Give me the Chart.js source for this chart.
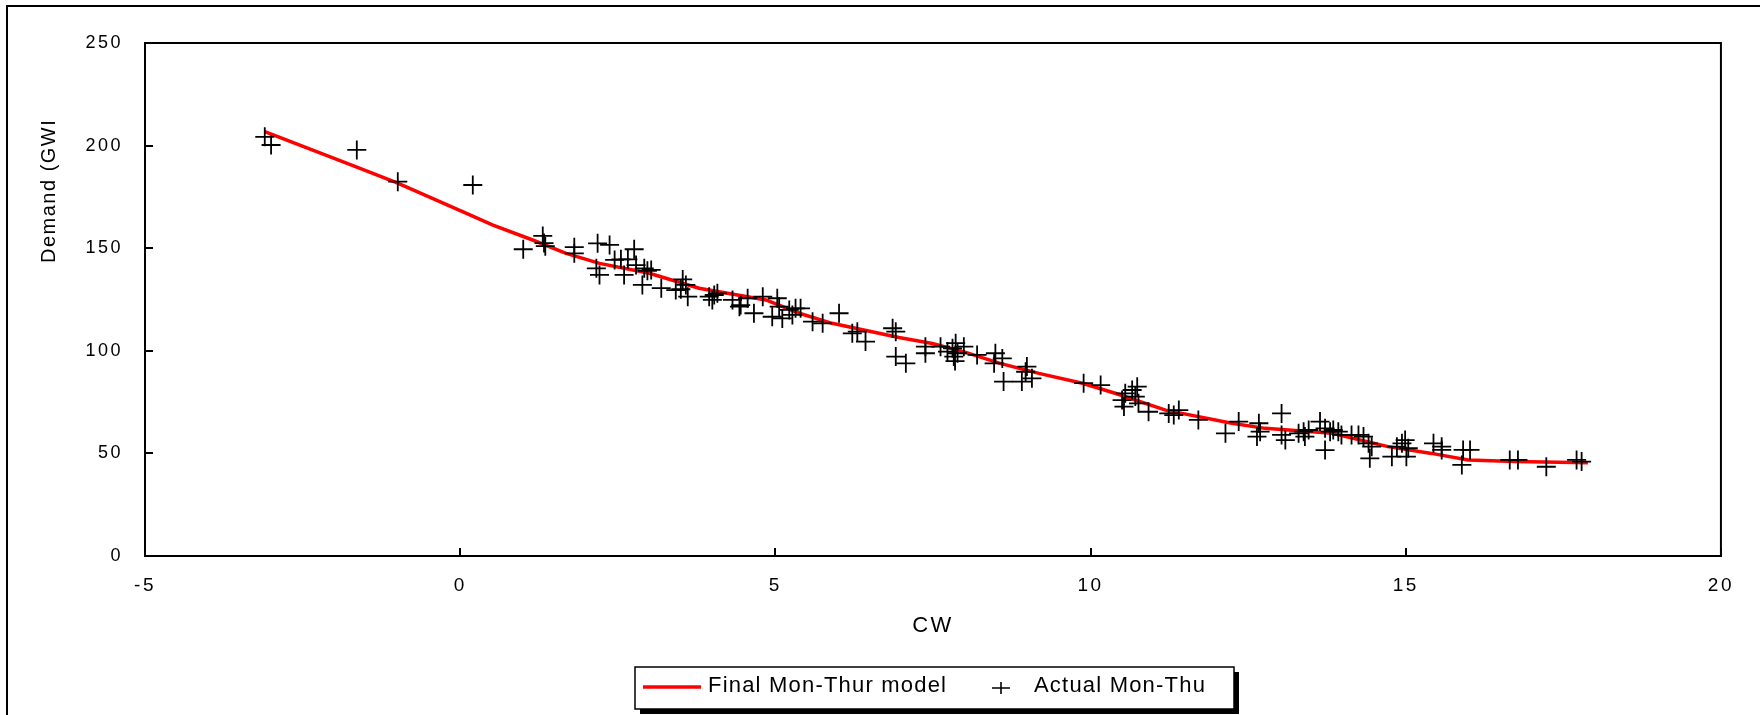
<!DOCTYPE html>
<html>
<head>
<meta charset="utf-8">
<script src="https://cdn.jsdelivr.net/npm/chart.js@4.4.0/dist/chart.umd.min.js"></script>
<style>
  html, body { margin: 0; padding: 0; background: #fff; }
  canvas { display: block; }
</style>
</head>
<body>
<canvas id="demandChart" width="1760" height="715"></canvas>
<script>
const yTitle = 'Demand (GWI';
const xTitle = 'CW';
const modelLabel = 'Final Mon-Thur model';
const actualLabel = 'Actual Mon-Thu';

// model curve
const cwModel = [-3.1, -1.65, -1.0, 0.1, 0.52, 1.15, 1.68, 2.21, 3.0, 3.79, 4.85, 5.38, 5.9, 6.96, 7.49, 8.02, 8.55, 9.18, 9.87, 10.39, 11.19, 12.24, 12.77, 13.83, 14.72, 15.41, 15.99, 16.73, 17.89];
const demandModel = [206.8, 189.6, 181.8, 167, 161.3, 154, 147.5, 142.6, 137.8, 130.5, 124.8, 118.3, 113.4, 106.5, 103.6, 99.2, 94, 89, 84.2, 79.3, 71.1, 64.7, 62.2, 59.8, 53.3, 50, 46.8, 46, 45.5];

// actual Mon-Thu observations
const cwActual = [
  -3.10, -3.00, -1.64, -0.99, 0.20, 1.00, 1.31, 1.33, 1.35, 1.81, 1.81,
  2.18, 2.37, 2.76, 2.16, 2.21, 2.45, 2.55, 2.66, 2.60, 2.79, 2.92, 2.97, 3.03, 2.89, 3.19,
  3.53, 3.58, 3.50, 3.61, 3.42, 3.95, 4.03, 4.08, 4.00, 4.32, 4.45, 4.56, 4.80, 4.66, 4.43,
  5.03, 5.06, 4.95, 5.11, 5.22, 5.32, 5.40, 5.27, 5.59, 5.75, 6.01, 6.22, 6.30, 6.43, 6.86,
  6.91, 6.91, 7.07, 7.38, 7.38, 7.62, 7.73, 7.81, 7.86, 7.83, 7.89, 7.99, 8.20, 7.85,
  8.49, 8.60, 8.47, 8.62, 8.91, 8.97, 9.07, 8.99, 9.89, 10.16, 10.50, 10.55, 10.66, 10.74,
  10.71, 10.53, 10.76, 10.92, 11.24, 11.40, 11.32, 11.71, 12.14, 12.35, 12.67, 12.64, 12.69,
  13.03, 13.03, 13.09, 13.30, 13.38, 13.46, 13.40, 13.64, 13.72, 13.72, 13.80, 13.85, 13.98,
  14.14, 14.33, 14.43, 14.46, 14.78, 14.86, 14.41, 13.93, 14.25,
  14.94, 14.99, 15.04, 15.01, 15.44, 15.57, 15.57, 15.89, 15.91, 16.02, 16.65, 16.78, 17.23,
  17.71, 17.79
];
const demandActual = [
  204.3, 200.3, 197.9, 182.4, 180.8, 149.5, 156, 152.5, 151, 150.5, 147.5,
  152.4, 151.6, 149.5, 140.2, 137, 144.3, 144.6, 144.6, 137, 141.8, 140.2, 139, 139.4, 132.1, 130.5,
  134.8, 132.1, 130, 126.4, 129.6, 126.4, 127.2, 128, 124.8, 124.8, 122.3, 125.6, 126.4, 118.3, 121.5,
  125.6, 121.5, 116.6, 115.8, 119.9, 120.7, 120.7, 117.5, 114.2, 113.4, 118.3, 108.5, 109.3, 104.5, 111,
  109.3, 97.2, 93.9, 102, 98.8, 102, 99.6, 101.2, 103.7, 97.2, 98.8, 102, 98, 95,
  98.8, 96.3, 93.9, 85, 85, 89.8, 86.6, 92.3, 84.2, 83.3, 76, 79.3, 80.9, 82.5,
  77.7, 72.8, 74.4, 70.3, 69.5, 71.1, 68.7, 66.3, 59.8, 65.5, 64.7, 58.2, 60.6,
  69.5, 59, 56.5, 59.8, 60.6, 61.4, 58.2, 65.5, 62.2, 51.6, 60.6, 61.4, 59,
  59, 58.2, 47.6, 53.3, 48.4, 53.3, 54.9, 60.6, 59,
  54.9, 56.5, 52.5, 48.4, 54.9, 53.3, 51.7, 44.4, 51.7, 51.7, 46.8, 46.8, 43.5,
  46.8, 46
];

const FONT_FAMILY = '"Liberation Sans", Arial, sans-serif';
const LETTER_SPACING = '2.5px';

const modelPoints = cwModel.map((x, i) => ({ x: x, y: demandModel[i] }));
const actualPoints = cwActual.map((x, i) => ({ x: x, y: demandActual[i] }));

// frame, plot box, y title and boxed legend
const decorPlugin = {
  id: 'decor',
  beforeUpdate(chart) {
    chart.ctx.letterSpacing = LETTER_SPACING;
  },
  beforeDraw(chart) {
    const ctx = chart.ctx;
    ctx.letterSpacing = LETTER_SPACING;
    ctx.save();
    ctx.fillStyle = '#fff';
    ctx.fillRect(0, 0, chart.width, chart.height);
    ctx.strokeStyle = '#000';
    ctx.lineWidth = 2;
    ctx.strokeRect(7, 6, chart.width + 20, chart.height + 20);
    ctx.restore();
  },
  afterDraw(chart) {
    const ctx = chart.ctx;
    const a = chart.chartArea;
    ctx.save();
    ctx.strokeStyle = '#000';
    ctx.lineWidth = 2;
    ctx.strokeRect(a.left, a.top, a.right - a.left, a.bottom - a.top);

    // y axis title, reads bottom to top
    ctx.save();
    ctx.letterSpacing = '1.5px';
    ctx.font = '20px ' + FONT_FAMILY;
    ctx.fillStyle = '#000';
    ctx.translate(49, 263);
    ctx.rotate(-Math.PI / 2);
    ctx.textAlign = 'left';
    ctx.textBaseline = 'middle';
    ctx.fillText(yTitle, 0, 0);
    ctx.restore();

    // legend box with drop shadow
    const lx = 635, ly = 667, lw = 599, lh = 42;
    ctx.fillStyle = '#000';
    ctx.fillRect(lx + 5, ly + 5, lw, lh);
    ctx.fillStyle = '#fff';
    ctx.fillRect(lx, ly, lw, lh);
    ctx.lineWidth = 1.5;
    ctx.strokeRect(lx, ly, lw, lh);

    const cy = 687;
    const actualSet = chart.data.datasets[0];
    const modelSet = chart.data.datasets[1];
    ctx.strokeStyle = modelSet.borderColor;
    ctx.lineWidth = 3.5;
    ctx.beginPath();
    ctx.moveTo(643, cy);
    ctx.lineTo(701, cy);
    ctx.stroke();

    ctx.letterSpacing = '1.2px';
    ctx.font = '22px ' + FONT_FAMILY;
    ctx.fillStyle = '#000';
    ctx.textAlign = 'left';
    ctx.textBaseline = 'middle';
    ctx.fillText(modelSet.label, 708, cy - 1);

    ctx.strokeStyle = '#000';
    ctx.lineWidth = 1.6;
    ctx.beginPath();
    ctx.moveTo(992, cy + 1);
    ctx.lineTo(1010, cy + 1);
    ctx.moveTo(1001, cy - 5);
    ctx.lineTo(1001, cy + 7);
    ctx.stroke();
    ctx.fillText(actualSet.label, 1034, cy - 1);
    ctx.restore();
  }
};

const ctx = document.getElementById('demandChart').getContext('2d');
new Chart(ctx, {
  type: 'scatter',
  data: {
    datasets: [{
      label: actualLabel,
      data: actualPoints,
      pointStyle: 'cross',
      pointRadius: 9.5,
      pointHoverRadius: 9.5,
      borderColor: '#000',
      backgroundColor: '#000',
      pointBorderWidth: 1.8,
      showLine: false,
      order: 0
    }, {
      label: modelLabel,
      type: 'line',
      data: modelPoints,
      borderColor: '#ff0000',
      borderWidth: 3.5,
      pointRadius: 0,
      tension: 0,
      fill: false,
      order: 1
    }]
  },
  options: {
    responsive: false,
    animation: false,
    layout: {
      padding: { top: 43, right: 37, left: 0, bottom: 59 }
    },
    plugins: {
      legend: { display: false },
      tooltip: { enabled: false }
    },
    scales: {
      x: {
        type: 'linear',
        min: -5,
        max: 20,
        afterFit: function(scale) { scale.height = 100; },
        ticks: {
          stepSize: 5,
          padding: 26,
          color: '#000',
          font: { family: FONT_FAMILY, size: 19 }
        },
        grid: {
          drawOnChartArea: false,
          tickLength: -8,
          color: '#000',
          lineWidth: 2
        },
        border: { color: '#000', width: 2 },
        title: {
          display: true,
          text: xTitle,
          color: '#000',
          font: { family: FONT_FAMILY, size: 22 },
          padding: { top: 0, bottom: 17 }
        }
      },
      y: {
        min: 0,
        max: 250,
        afterFit: function(scale) { scale.width = 145; },
        ticks: {
          stepSize: 50,
          padding: 30,
          color: '#000',
          font: { family: FONT_FAMILY, size: 18 }
        },
        grid: {
          drawOnChartArea: false,
          tickLength: -8,
          color: '#000',
          lineWidth: 2
        },
        border: { color: '#000', width: 2 }
      }
    }
  },
  plugins: [decorPlugin]
});
</script>
</body>
</html>
